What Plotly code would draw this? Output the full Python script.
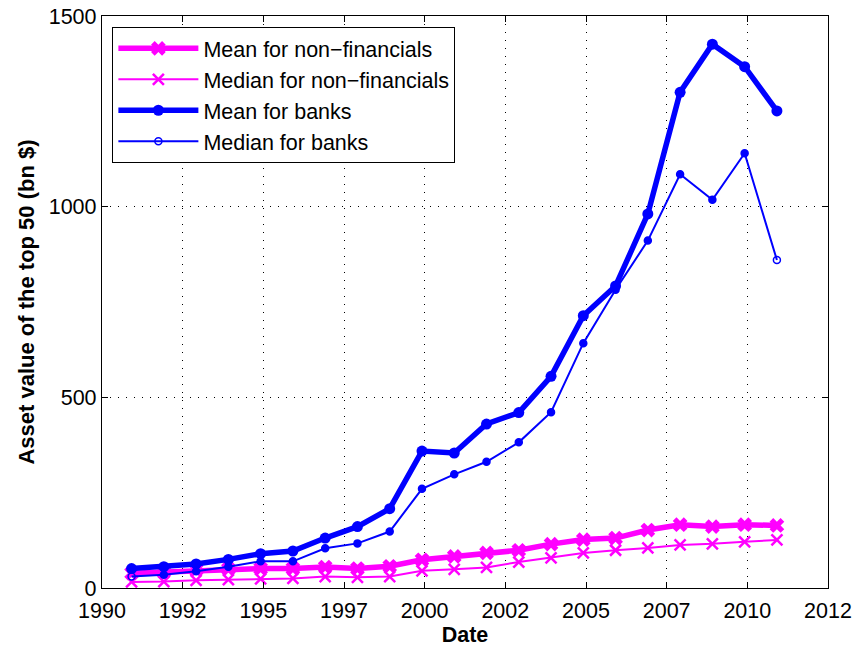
import plotly.graph_objects as go

# Observation dates: one observation per year, taken in December
obs_year = list(range(1990, 2011))
obs_month = 12

# Mean / median total assets of the 50 largest firms (bn $)
nonfin_mean = [39, 42, 48, 50, 51, 51, 55, 51, 57, 74, 83, 92, 99, 115, 127, 131, 152, 166, 161, 166, 164]
nonfin_median = [16, 17, 20, 22, 24, 25, 30, 28, 30, 45, 49, 54, 68, 79, 92, 99, 105, 113, 116, 121, 126]
banks_mean = [51, 56, 63, 75, 90, 97, 131, 161, 208, 359, 354, 430, 460, 555, 714, 792, 981, 1300, 1426, 1367, 1251]
banks_median = [30, 35, 44, 56, 70, 70, 104, 117, 148, 260, 298, 331, 382, 461, 642, 782, 911, 1085, 1018, 1140, 860]

# Date axis ticks every 2.5 years, labelled with the calendar year
tick_dates = [1990 + 2.5 * k for k in range(10)]
tick_labels = ["1990", "1992", "1995", "1997", "2000", "2002", "2005", "2007", "2010", "2012"]
y_ticks = [0, 500, 1000, 1500]

x = [y + (obs_month - 1) / 12 for y in obs_year]

MAGENTA = "#FF00FF"
BLUE = "#0000FF"
FONT = "Liberation Sans, Arial, Helvetica, sans-serif"

fig = go.Figure()
fig.add_trace(go.Scatter(
    x=x, y=nonfin_mean, name="Mean for non\u2212financials", mode="lines+markers",
    line=dict(color=MAGENTA, width=5.5),
    marker=dict(symbol="x", size=13, color=MAGENTA),
))
fig.add_trace(go.Scatter(
    x=x, y=nonfin_median, name="Median for non\u2212financials", mode="lines+markers",
    line=dict(color=MAGENTA, width=2),
    marker=dict(symbol="x-thin", size=11, color=MAGENTA, line=dict(color=MAGENTA, width=2.5)),
))
fig.add_trace(go.Scatter(
    x=x, y=banks_mean, name="Mean for banks", mode="lines+markers",
    line=dict(color=BLUE, width=5.5),
    marker=dict(symbol="circle", size=11, color=BLUE),
))
median_symbols = ["circle"] * len(banks_median)
median_symbols[0] = "circle-open"
median_symbols[-1] = "circle-open"
fig.add_trace(go.Scatter(
    x=x, y=banks_median, name="Median for banks", mode="lines+markers",
    line=dict(color=BLUE, width=2),
    marker=dict(symbol=median_symbols, size=7, color=BLUE, line=dict(color=BLUE, width=1.5)),
))

axis_common = dict(
    showline=True, linecolor="black", linewidth=1.3, mirror="ticks",
    ticks="inside", ticklen=6, tickcolor="black", tickwidth=1,
    showgrid=True, gridcolor="black", gridwidth=1, griddash="1px,7px",
    zeroline=False, automargin=False,
    tickfont=dict(size=21.5, color="black", family=FONT),
)

fig.update_xaxes(
    range=[1990, 2012.5], tickmode="array", tickvals=tick_dates, ticktext=tick_labels,
    ticklabelstandoff=3,
    title=dict(text="<b>Date</b>", font=dict(size=21.5, color="black", family=FONT), standoff=4),
    **axis_common,
)
fig.update_yaxes(
    range=[0, 1500], tickmode="array", tickvals=y_ticks, ticktext=[str(v) for v in y_ticks],
    title=dict(text="<b>Asset value of the top 50 (bn $)</b>",
               font=dict(size=22, color="black", family=FONT), standoff=8),
    **axis_common,
)

fig.update_layout(
    width=858, height=647,
    margin=dict(l=102, r=30, t=16, b=59),
    paper_bgcolor="white", plot_bgcolor="white",
    font=dict(family=FONT, color="black", size=21),
    showlegend=True,
    legend=dict(
        x=0.0143, y=0.981, xanchor="left", yanchor="top",
        bgcolor="white", bordercolor="black", borderwidth=1,
        font=dict(size=21.5, color="black", family=FONT),
        itemwidth=80, tracegroupgap=0,
    ),
)

fig.write_html("out.html")
